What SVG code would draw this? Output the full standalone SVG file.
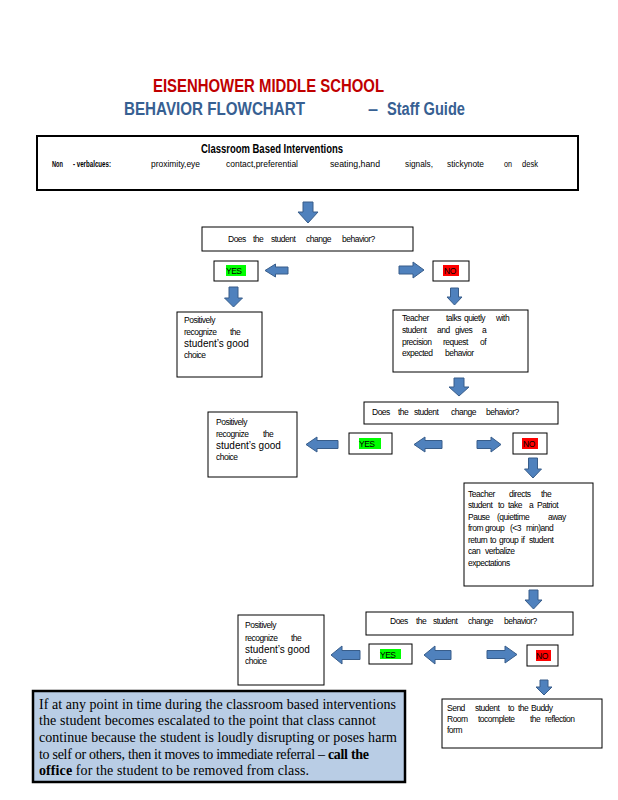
<svg xmlns="http://www.w3.org/2000/svg" width="618" height="800" viewBox="0 0 618 800">
<style>
.bx{fill:#fff;stroke:#000;stroke-width:1}
.arr{fill:#4F81BD;stroke:#385D8A;stroke-width:1}
.s{font-family:"Liberation Sans",Arial,sans-serif;font-size:8.5px;letter-spacing:-0.5px;fill:#000}
.g{font-family:"Liberation Sans",Arial,sans-serif;font-size:10px;fill:#000}
.t{font-family:"Liberation Sans",Arial,sans-serif;font-weight:bold}
.m{font-family:"Liberation Sans",Arial,sans-serif;font-size:9.5px;fill:#000}
.sr{font-family:"Liberation Serif","Times New Roman",serif;font-size:14px;fill:#000}
</style>
<rect width="618" height="800" fill="#fff"/>
<g id="title">
<text class="t" x="153" y="92" font-size="18" fill="#C00000" textLength="231" lengthAdjust="spacingAndGlyphs">EISENHOWER MIDDLE SCHOOL</text>
<text class="t" x="124" y="115" font-size="18" fill="#376092" textLength="181" lengthAdjust="spacingAndGlyphs">BEHAVIOR FLOWCHART</text>
<text class="t" x="368" y="115" font-size="18" fill="#376092">–</text>
<text class="t" x="387" y="115" font-size="18" fill="#376092" textLength="78" lengthAdjust="spacingAndGlyphs">Staff Guide</text>
</g>
<g id="classroom">
<rect x="37" y="136" width="541" height="54" fill="#fff" stroke="#000" stroke-width="2"/>
<text class="t" x="201" y="153" font-size="12" textLength="142" lengthAdjust="spacingAndGlyphs">Classroom Based Interventions</text>
<g class="m">
<text x="52" y="167" font-weight="bold" textLength="11" lengthAdjust="spacingAndGlyphs">Non</text>
<text x="73" y="167" font-weight="bold" textLength="38" lengthAdjust="spacingAndGlyphs">- verbalcues:</text>
<text x="151" y="167" textLength="49" lengthAdjust="spacingAndGlyphs">proximity,eye</text>
<text x="226" y="167" textLength="72" lengthAdjust="spacingAndGlyphs">contact,preferential</text>
<text x="330" y="167" textLength="50" lengthAdjust="spacingAndGlyphs">seating,hand</text>
<text x="405" y="167" textLength="28" lengthAdjust="spacingAndGlyphs">signals,</text>
<text x="447" y="167" textLength="37" lengthAdjust="spacingAndGlyphs">stickynote</text>
<text x="504" y="167" textLength="8" lengthAdjust="spacingAndGlyphs">on</text>
<text x="522" y="167" textLength="16" lengthAdjust="spacingAndGlyphs">desk</text>
</g>
</g>
<g id="q1">
<rect class="bx" x="202" y="227" width="211" height="24"/>
<text class="s" y="242"><tspan x="228">Does</tspan><tspan x="253">the</tspan><tspan x="271">student</tspan><tspan x="306">change</tspan><tspan x="342">behavior?</tspan></text>
</g>
<g id="yes1">
<rect class="bx" x="214" y="261" width="44" height="20"/>
<rect x="226" y="265" width="20" height="11" fill="#00FF00"/>
<text class="s" x="226" y="274">YES</text>
</g>
<g id="no1">
<rect class="bx" x="433" y="261" width="36" height="20"/>
<rect x="443" y="265" width="16" height="11" fill="#FF0000"/>
<text class="s" x="444" y="274">NO</text>
</g>
<g id="pos1">
<rect class="bx" x="177" y="312" width="85" height="65"/>
<text class="s" x="184" y="323">Positively</text>
<text class="s" y="335"><tspan x="184">recognize</tspan><tspan x="230">the</tspan></text>
<text class="g" x="184" y="347">student’s good</text>
<text class="s" x="184" y="358">choice</text>
</g>
<g id="talk">
<rect class="bx" x="393" y="310" width="135" height="62"/>
<text class="s" y="321"><tspan x="402">Teacher</tspan><tspan x="446">talks</tspan><tspan x="464">quietly</tspan><tspan x="496">with</tspan></text>
<text class="s" y="333"><tspan x="402">student</tspan><tspan x="437">and</tspan><tspan x="455">gives</tspan><tspan x="482">a</tspan></text>
<text class="s" y="345"><tspan x="402">precision</tspan><tspan x="443">request</tspan><tspan x="480">of</tspan></text>
<text class="s" y="356"><tspan x="402">expected</tspan><tspan x="445">behavior</tspan></text>
</g>
<g id="q2">
<rect class="bx" x="364" y="402" width="194" height="22"/>
<text class="s" y="415"><tspan x="372">Does</tspan><tspan x="398">the</tspan><tspan x="414">student</tspan><tspan x="451">change</tspan><tspan x="486">behavior?</tspan></text>
</g>
<g id="pos2">
<rect class="bx" x="208" y="412" width="89" height="65"/>
<text class="s" x="216" y="425">Positively</text>
<text class="s" y="437"><tspan x="216">recognize</tspan><tspan x="263">the</tspan></text>
<text class="g" x="216" y="449">student’s good</text>
<text class="s" x="216" y="460">choice</text>
</g>
<g id="yes2">
<rect class="bx" x="349" y="433" width="43" height="21"/>
<rect x="359" y="438" width="22" height="11" fill="#00FF00"/>
<text class="s" x="359" y="447">YES</text>
</g>
<g id="no2">
<rect class="bx" x="513" y="433" width="34" height="21"/>
<rect x="522" y="438" width="16" height="11" fill="#FF0000"/>
<text class="s" x="523" y="447">NO</text>
</g>
<g id="directs">
<rect class="bx" x="464" y="483" width="129" height="103"/>
<text class="s" y="497"><tspan x="468">Teacher</tspan><tspan x="509">directs</tspan><tspan x="541">the</tspan></text>
<text class="s" y="508"><tspan x="468">student</tspan><tspan x="498">to</tspan><tspan x="508">take</tspan><tspan x="529">a</tspan><tspan x="537">Patriot</tspan></text>
<text class="s" y="520"><tspan x="468">Pause</tspan><tspan x="497">(quiettime</tspan><tspan x="548">away</tspan></text>
<text class="s" y="531"><tspan x="468">from</tspan><tspan x="485">group</tspan><tspan x="510">(&lt;3</tspan><tspan x="526">min)and</tspan></text>
<text class="s" y="543"><tspan x="468">return</tspan><tspan x="490">to</tspan><tspan x="499">group</tspan><tspan x="521">if</tspan><tspan x="529">student</tspan></text>
<text class="s" y="554"><tspan x="468">can</tspan><tspan x="485">verbalize</tspan></text>
<text class="s" x="468" y="566">expectations</text>
</g>
<g id="q3">
<rect class="bx" x="366" y="612" width="207" height="23"/>
<text class="s" y="624"><tspan x="390">Does</tspan><tspan x="416">the</tspan><tspan x="433">student</tspan><tspan x="468">change</tspan><tspan x="504">behavior?</tspan></text>
</g>
<g id="pos3">
<rect class="bx" x="238" y="615" width="86" height="70"/>
<text class="s" x="245" y="628">Positively</text>
<text class="s" y="641"><tspan x="245">recognize</tspan><tspan x="291">the</tspan></text>
<text class="g" x="245" y="653">student’s good</text>
<text class="s" x="245" y="664">choice</text>
</g>
<g id="yes3">
<rect class="bx" x="369" y="644" width="43" height="20"/>
<rect x="380" y="649" width="21" height="10" fill="#00FF00"/>
<text class="s" x="380" y="658">YES</text>
</g>
<g id="no3">
<rect class="bx" x="527" y="645" width="31" height="21"/>
<rect x="536" y="650" width="15" height="11" fill="#FF0000"/>
<text class="s" x="536" y="659">NO</text>
</g>
<g id="send">
<rect class="bx" x="442" y="699" width="160" height="49"/>
<text class="s" y="711"><tspan x="447">Send</tspan><tspan x="475">student</tspan><tspan x="508">to</tspan><tspan x="518">the</tspan><tspan x="531">Buddy</tspan></text>
<text class="s" y="722"><tspan x="447">Room</tspan><tspan x="478">tocomplete</tspan><tspan x="530">the</tspan><tspan x="545">reflection</tspan></text>
<text class="s" x="447" y="733">form</text>
</g>
<g id="note">
<rect x="33" y="691" width="372" height="91" fill="#B9CDE5" stroke="#000" stroke-width="2.5"/>
<text class="sr" x="39" y="709" textLength="357" lengthAdjust="spacing">If at any point in time during the classroom based interventions</text>
<text class="sr" x="39" y="725" textLength="337" lengthAdjust="spacing">the student becomes escalated to the point that class cannot</text>
<text class="sr" x="39" y="742" textLength="358" lengthAdjust="spacing">continue because the student is loudly disrupting or poses harm</text>
<text class="sr" x="39" y="759" textLength="330" lengthAdjust="spacing">to self or others, then it moves to immediate referral – <tspan font-weight="bold">call the</tspan></text>
<text class="sr" x="39" y="775" textLength="270" lengthAdjust="spacing"><tspan font-weight="bold">office</tspan>  for the student to be removed from class.</text>
</g>
<g id="connectors">
<path class="arr" d="M303,202H313V212H318L308,223L298,212H303Z"/>
<path class="arr" d="M229,287H238V298H242.5L233.5,307L224.5,298H229Z"/>
<path class="arr" d="M450.5,288H458.5V297H462L454.5,305L447,297H450.5Z"/>
<path class="arr" d="M454,378H464V387H469L459,396L449,387H454Z"/>
<path class="arr" d="M528.5,458H537.5V469H541.5L533,478L524.5,469H528.5Z"/>
<path class="arr" d="M529,590H538V600H542L533.5,609L525,600H529Z"/>
<path class="arr" d="M540,680H548V687H552L544,695L536,687H540Z"/>
<path class="arr" d="M288,267V274H275.5V277L265,270.5L275.5,264V267Z"/>
<path class="arr" d="M399,266H413V262L424,270L413,278V274H399Z"/>
<path class="arr" d="M338,440.5V448.5H317V452L306,444.5L317,437V440.5Z"/>
<path class="arr" d="M442,440.5V448.5H425V452L414,444.5L425,437V440.5Z"/>
<path class="arr" d="M477,440.5H491V437L501,444.5L491,452V448.5H477Z"/>
<path class="arr" d="M360,650.5V659.5H342V664L331,655L342,646V650.5Z"/>
<path class="arr" d="M451,650.5V659.5H435V664L424,655L435,646V650.5Z"/>
<path class="arr" d="M487,650.5H505V646L517,654.5L505,663V658.5H487Z"/>
</g>
</svg>
